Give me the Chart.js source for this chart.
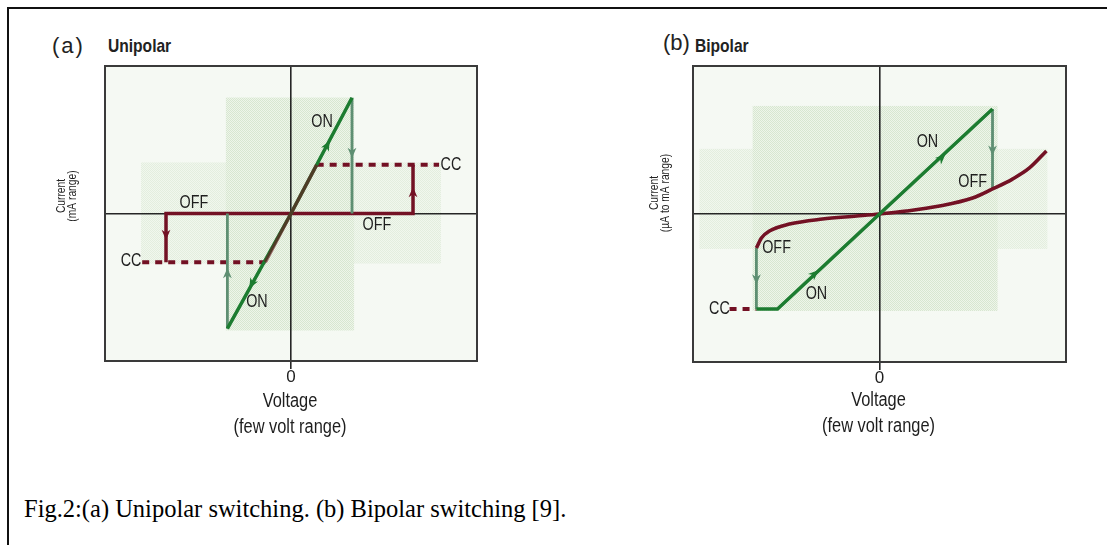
<!DOCTYPE html>
<html>
<head>
<meta charset="utf-8">
<title>Unipolar and bipolar switching</title>
<script src="https://cdn.jsdelivr.net/npm/chart.js@4.4.1/dist/chart.umd.min.js"></script>
<style>
  html, body { margin: 0; padding: 0; background: #fff; }
  #page { position: relative; width: 1107px; height: 545px; overflow: hidden; background: #fff; }
  .rule { position: absolute; background: #111; }
  canvas { position: absolute; top: 0; }
  .tag { position: absolute; white-space: nowrap; color: #222; line-height: 26px; }
  .letter { font-family: 'Liberation Sans', Arial, sans-serif; font-size: 22px; letter-spacing: 2px; }
  .name { font-family: 'Liberation Sans', Arial, sans-serif; font-size: 19px; font-weight: bold;
          transform: scaleX(0.82); transform-origin: 0 50%; }
  #caption { position: absolute; left: 24px; top: 494px; line-height: 30px; white-space: nowrap;
             font-family: 'Liberation Serif', 'Times New Roman', serif; font-size: 24.5px; color: #000; }
</style>
</head>
<body>
<div id="page">
  <div class="rule" style="left:7px;top:7px;width:1100px;height:2px;"></div>
  <div class="rule" style="left:7px;top:7px;width:2px;height:538px;"></div>

  <div class="tag letter" style="left:52px;top:33px;">(a)</div>
  <div class="tag name" style="left:108px;top:33px;">Unipolar</div>
  <div class="tag letter" style="left:663px;top:30px;letter-spacing:0;">(b)</div>
  <div class="tag name" style="left:695px;top:33px;">Bipolar</div>

  <canvas id="uni" width="560" height="470" style="left:0px;"></canvas>
  <canvas id="bip" width="547" height="470" style="left:560px;"></canvas>

  <div id="caption">Fig.2:(a) Unipolar switching. (b) Bipolar switching [9].</div>
</div>

<script>
// ---------- data (voltage / current in arbitrary units, axes run -10..10) ----------

// (a) unipolar
const uniOnBranch      = [{x: -3.42, y: -7.8}, {x: 0, y: 0}, {x: 3.28, y: 7.85}];
const uniResetPos      = [{x: 3.28, y: 7.85}, {x: 3.28, y: 0}];
const uniResetNeg      = [{x: -3.42, y: -7.8}, {x: -3.42, y: 0}];
const uniOffBranch     = [{x: -6.72, y: -3.3}, {x: -6.72, y: 0}, {x: 6.56, y: 0}, {x: 6.56, y: 3.3}];
const uniOffShared     = [{x: -1.38, y: -3.3}, {x: 0, y: 0}, {x: 1.38, y: 3.3}];
const uniCompliancePos = [{x: 1.38, y: 3.3}, {x: 7.96, y: 3.3}];
const uniComplianceNeg = [{x: -8.0, y: -3.3}, {x: -1.38, y: -3.3}];

const uniOnArrows    = [{x: 1.94, y: 4.61, dx: 1, dy: 2.39}, {x: -2.1, y: -4.75, dx: -1, dy: -2.28}];
const uniResetArrows = [{x: 3.28, y: 4.14, dx: 0, dy: -1}, {x: -3.42, y: -4.07, dx: 0, dy: 1}];
const uniOffArrows   = [{x: 6.56, y: 1.42, dx: 0, dy: 1}, {x: -6.72, y: -1.42, dx: 0, dy: -1}];

const uniLabels = [
  {text: 'ON',  x: 1.67,  y: 6.17},
  {text: 'ON',  x: -1.83, y: -6.03},
  {text: 'OFF', x: -5.22, y: 0.68},
  {text: 'OFF', x: 4.62,  y: -0.81},
  {text: 'CC',  x: 8.6,   y: 3.25},
  {text: 'CC',  x: -8.6,  y: -3.2}
];

// (b) bipolar
const bipOnBranch   = [{x: -6.6, y: -6.42}, {x: -5.47, y: -6.42}, {x: 0, y: 0}, {x: 6.06, y: 7.09}];
const bipResetPos   = [{x: 6.06, y: 7.09}, {x: 6.06, y: 1.69}];
const bipResetNeg   = [{x: -6.6, y: -2.3}, {x: -6.6, y: -6.42}];
const bipOffCurveX  = [-6.6, -6.33, -5.9, -4.83, -3.06, -1.23, 0, 1.45, 3.22, 4.99, 6.06, 7.13, 8.04, 8.95];
const bipOffCurveY  = [-2.3, -1.62, -1.15, -0.68, -0.34, -0.14, 0, 0.2, 0.54, 1.08, 1.69, 2.36, 3.11, 4.26];
const bipCompliance = [{x: -8.04, y: -6.42}, {x: -6.6, y: -6.42}];

const bipOnArrows    = [{x: 3.32, y: 3.78, dx: 1, dy: 1.17}, {x: -3.49, y: -4.05, dx: 1, dy: 1.17}];
const bipResetArrows = [{x: 6.06, y: 4.32, dx: 0, dy: -1}, {x: -6.6, y: -4.39, dx: 0, dy: -1}];

const bipLabels = [
  {text: 'ON',  x: 2.57,  y: 4.86},
  {text: 'OFF', x: 4.99,  y: 2.16},
  {text: 'OFF', x: -5.52, y: -2.3},
  {text: 'ON',  x: -3.38, y: -5.4},
  {text: 'CC',  x: -8.58, y: -6.42}
];

const xTitleLines = ['Voltage', '(few volt range)'];
const uniYTitleLines = ['Current', '(mA range)'];
const bipYTitleLines = ['Current', '(\u00b5A to mA range)'];

// shaded backdrop regions behind each plot (data units)
const uniBackdropSoft   = [{x0: -8.06, x1: 8.06, y0: -3.39, y1: 3.46}];
const uniBackdropStrong = [{x0: -3.5, x1: 3.39, y0: -7.93, y1: 7.86}];
const bipBackdropSoft   = [{x0: -9.65, x1: 9.0, y0: -2.36, y1: 4.4}];
const bipBackdropStrong = [{x0: -6.8, x1: 6.33, y0: -6.55, y1: 7.3}];

// ---------- styling ----------
const SANS = "'Liberation Sans', Arial, sans-serif";
const SQUEEZE = 0.82;           // condensed look for the figure lettering
const GREEN = '#1c7c30';
const GREY_GREEN = '#5e8f72';
const MAROON = '#731124';
const INK = '#1e1e1e';
const FRAME = '#3a3a3a';

Chart.defaults.color = INK;

const toPts = (xs, ys) => xs.map((x, i) => ({x, y: ys[i]}));

function line(data, color, width, order, extra) {
  return Object.assign({
    type: 'scatter', data, showLine: true, fill: false,
    borderColor: color, backgroundColor: color, borderWidth: width,
    pointRadius: 0, pointHoverRadius: 0, tension: 0, order,
    borderCapStyle: 'butt', borderJoinStyle: 'miter'
  }, extra || {});
}

function makePattern(ctx, base, dot) {
  const c = document.createElement('canvas');
  c.width = 2; c.height = 2;
  const g = c.getContext('2d');
  g.fillStyle = base; g.fillRect(0, 0, 2, 2);
  g.fillStyle = dot; g.fillRect(0, 0, 1, 1); g.fillRect(1, 1, 1, 1);
  return ctx.createPattern(c, 'repeat');
}

function arrowHead(ctx, px, py, ang, color, size) {
  ctx.save();
  ctx.translate(px, py);
  ctx.rotate(ang);
  ctx.beginPath();
  ctx.moveTo(size, 0);
  ctx.lineTo(-size * 0.85, size * 0.8);
  ctx.lineTo(-size * 0.3, 0);
  ctx.lineTo(-size * 0.85, -size * 0.8);
  ctx.closePath();
  ctx.fillStyle = color;
  ctx.fill();
  ctx.restore();
}

// condensed text centred on (x, y); optionally turned to read bottom-up
function narrowText(ctx, text, x, y, size, rotated) {
  ctx.save();
  ctx.translate(x, y);
  if (rotated) ctx.rotate(-Math.PI / 2);
  ctx.scale(SQUEEZE, 1);
  ctx.font = size + 'px ' + SANS;
  ctx.fillStyle = INK;
  ctx.textAlign = 'center';
  ctx.textBaseline = 'middle';
  ctx.fillText(text, 0, 0);
  ctx.restore();
}

// backdrop, arrowheads, curve annotations and axis captions
const plotDecor = {
  id: 'plotDecor',
  beforeDraw(chart, args, opts) {
    const {ctx, chartArea: a} = chart;
    const xs = chart.scales.x, ys = chart.scales.y;
    ctx.save();
    ctx.fillStyle = '#f5f9f3';
    ctx.fillRect(a.left, a.top, a.right - a.left, a.bottom - a.top);
    const layers = [
      [opts.soft, makePattern(ctx, '#f1f7ee', '#e3eede')],
      [opts.strong, makePattern(ctx, '#eef5ea', '#d7e7d0')]
    ];
    for (const [regions, fill] of layers) {
      ctx.fillStyle = fill;
      for (const r of regions) {
        const p0 = xs.getPixelForValue(r.x0), p1 = xs.getPixelForValue(r.x1);
        const q0 = ys.getPixelForValue(r.y0), q1 = ys.getPixelForValue(r.y1);
        ctx.fillRect(Math.min(p0, p1), Math.min(q0, q1), Math.abs(p1 - p0), Math.abs(q1 - q0));
      }
    }
    ctx.restore();
  },
  afterDatasetsDraw(chart, args, opts) {
    const {ctx} = chart;
    const xs = chart.scales.x, ys = chart.scales.y;
    for (const group of opts.arrows) {
      for (const a of group.items) {
        const px = xs.getPixelForValue(a.x), py = ys.getPixelForValue(a.y);
        const qx = xs.getPixelForValue(a.x + a.dx * 0.01), qy = ys.getPixelForValue(a.y + a.dy * 0.01);
        arrowHead(ctx, px, py, Math.atan2(qy - py, qx - px), group.color, 5.5);
      }
    }
    for (const l of opts.labels) {
      narrowText(ctx, l.text, xs.getPixelForValue(l.x), ys.getPixelForValue(l.y), 17.5, false);
    }
  },
  afterDraw(chart, args, opts) {
    const {ctx} = chart;
    const xs = chart.scales.x;
    const cx = xs.getPixelForValue(0) - 1;
    xTitleLines.forEach((txt, i) => narrowText(ctx, txt, cx, opts.xTitleY[i], 20, false));
    const t = opts.yTitle;
    t.lines.forEach((txt, i) => narrowText(ctx, txt, t.xs[i], t.y, 12.5, true));
  }
};

function options(pad, decor) {
  const frame = {display: true, color: FRAME, width: 2};
  return {
    responsive: false,
    animation: false,
    events: [],
    layout: {padding: pad},
    plugins: {
      legend: {display: false},
      tooltip: {enabled: false},
      plotDecor: decor
    },
    scales: {
      x: {
        type: 'linear', position: 'bottom', min: -10, max: 10,
        afterBuildTicks: s => { s.ticks = [{value: 0}]; },
        afterFit: s => { s.height = 78; },
        ticks: {autoSkip: false, maxRotation: 0, padding: 0, color: INK,
                font: {family: SANS, size: 17, lineHeight: 1.0}},
        grid: {color: '#262626', lineWidth: 1.6, drawTicks: true, tickLength: 8,
               tickColor: '#262626', tickWidth: 1.6},
        border: frame
      },
      y: {
        type: 'linear', position: 'left', min: -10, max: 10,
        afterBuildTicks: s => { s.ticks = [{value: 0}]; },
        afterFit: s => { s.width = 0; },
        ticks: {display: false},
        grid: {color: '#262626', lineWidth: 1.6, drawTicks: false},
        border: frame
      },
      x2: {
        type: 'linear', position: 'top', min: -10, max: 10,
        afterFit: s => { s.height = 0; },
        ticks: {display: false}, grid: {display: false}, border: frame
      },
      y2: {
        type: 'linear', position: 'right', min: -10, max: 10,
        afterFit: s => { s.width = 0; },
        ticks: {display: false}, grid: {display: false}, border: frame
      }
    }
  };
}

const DASH = {borderDash: [7, 6]};

new Chart(document.getElementById('uni'), {
  type: 'scatter',
  data: {
    datasets: [
      line(uniOffShared, 'rgba(110,18,32,0.6)', 3.5, 0),
      line(uniOnBranch, GREEN, 3.5, 1),
      line(uniResetPos, GREY_GREEN, 2.8, 2),
      line(uniResetNeg, GREY_GREEN, 2.8, 2),
      line(uniCompliancePos, MAROON, 4, 3, DASH),
      line(uniComplianceNeg, MAROON, 4, 3, DASH),
      line(uniOffBranch, MAROON, 3.5, 4)
    ]
  },
  options: options({left: 105, top: 66, right: 83, bottom: 31}, {
    soft: uniBackdropSoft,
    strong: uniBackdropStrong,
    labels: uniLabels,
    arrows: [
      {items: uniOnArrows, color: GREEN},
      {items: uniResetArrows, color: GREY_GREEN},
      {items: uniOffArrows, color: MAROON}
    ],
    xTitleY: [401, 427],
    yTitle: {lines: uniYTitleLines, xs: [62, 72.5], y: 196}
  }),
  plugins: [plotDecor]
});

new Chart(document.getElementById('bip'), {
  type: 'scatter',
  data: {
    datasets: [
      line(bipOnBranch, GREEN, 3.5, 0),
      line(toPts(bipOffCurveX, bipOffCurveY), MAROON, 3.6, 1, {cubicInterpolationMode: 'monotone'}),
      line(bipResetPos, GREY_GREEN, 2.8, 2),
      line(bipResetNeg, GREY_GREEN, 2.8, 2),
      line(bipCompliance, MAROON, 4, 3, DASH)
    ]
  },
  options: options({left: 133, top: 66, right: 41, bottom: 30}, {
    soft: bipBackdropSoft,
    strong: bipBackdropStrong,
    labels: bipLabels,
    arrows: [
      {items: bipOnArrows, color: GREEN},
      {items: bipResetArrows, color: GREY_GREEN}
    ],
    xTitleY: [400, 426],
    yTitle: {lines: bipYTitleLines, xs: [94.5, 106], y: 193}
  }),
  plugins: [plotDecor]
});
</script>
</body>
</html>
